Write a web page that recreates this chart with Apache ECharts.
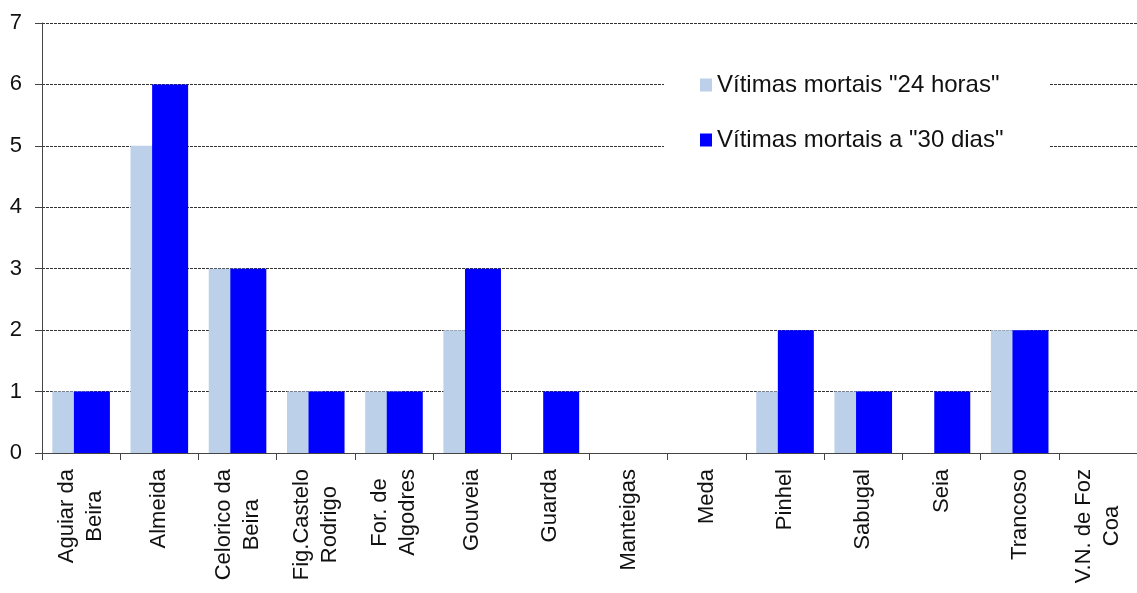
<!DOCTYPE html>
<html>
<head>
<meta charset="utf-8">
<script src="https://cdn.jsdelivr.net/npm/echarts@6/dist/echarts.min.js"></script>
<style>
  html, body { margin: 0; padding: 0; background: #fff; }
  #container { width: 1137px; height: 593px; }
</style>
</head>
<body>
<div id="container"></div>
<script>
var concelhos = ['Aguiar da\nBeira', 'Almeida', 'Celorico da\nBeira', 'Fig.Castelo\nRodrigo',
	'For. de\nAlgodres', 'Gouveia', 'Guarda', 'Manteigas', 'Meda', 'Pinhel', 'Sabugal',
	'Seia', 'Trancoso', 'V.N. de Foz\nCoa'];
var mortais24h = [1, 5, 3, 1, 1, 2, 0, 0, 0, 1, 1, 0, 2, 0];
var mortais30d = [1, 6, 3, 1, 1, 3, 1, 0, 0, 2, 1, 1, 2, 0];
var nomes = ['Vítimas mortais "24 horas"', 'Vítimas mortais a "30 dias"'];

var dom = document.getElementById("container");
var chart = echarts.init(dom);

var fonte = 'Liberation Sans, Arial, sans-serif';

var option = {
	animation: false,
	grid: {
		left: 42,
		top: 23,
		width: 1098,
		bottom: 140
	},
	legend: {
		data: nomes,
		orient: 'vertical',
		left: 664,
		top: 50,
		padding: [23, 46, 22, 36],
		backgroundColor: '#fff',
		itemWidth: 12,
		itemHeight: 13,
		itemGap: 31,
		textStyle: { fontFamily: fonte, fontSize: 24, color: '#111', lineHeight: 24 },
		icon: 'rect'
	},
	xAxis: {
		type: 'category',
		data: concelhos,
		axisLine: { lineStyle: { color: '#444', width: 1 } },
		axisTick: { show: true, length: 7, lineStyle: { color: '#444' } },
		axisLabel: {
			rotate: 90,
			interval: 0,
			margin: 16,
			formatter: function (v) {
				return v.split('\n').map(function (l) { return '{a|' + l + '}'; }).join('\n');
			},
			rich: {
				a: { fontFamily: fonte, fontSize: 22, color: '#111', lineHeight: 28, align: 'center' }
			}
		}
	},
	yAxis: {
		type: 'value',
		min: 0,
		max: 7,
		interval: 1,
		axisLine: { show: true, lineStyle: { color: '#444', width: 1 } },
		axisTick: { show: true, length: 7, lineStyle: { color: '#444' } },
		axisLabel: { fontFamily: fonte, fontSize: 22, color: '#111', margin: 20 },
		splitLine: { lineStyle: { color: '#333', type: [3, 1], width: 1 } }
	},
	series: [
		{
			name: nomes[0],
			type: 'bar',
			data: mortais24h,
			barWidth: 36,
			barGap: '-40%',
			itemStyle: { color: '#BDD0EA' }
		},
		{
			name: nomes[1],
			type: 'bar',
			data: mortais30d,
			barWidth: 36,
			barGap: '-40%',
			itemStyle: { color: '#0000FF' }
		}
	]
};

chart.setOption(option, true);
</script>
</body>
</html>
